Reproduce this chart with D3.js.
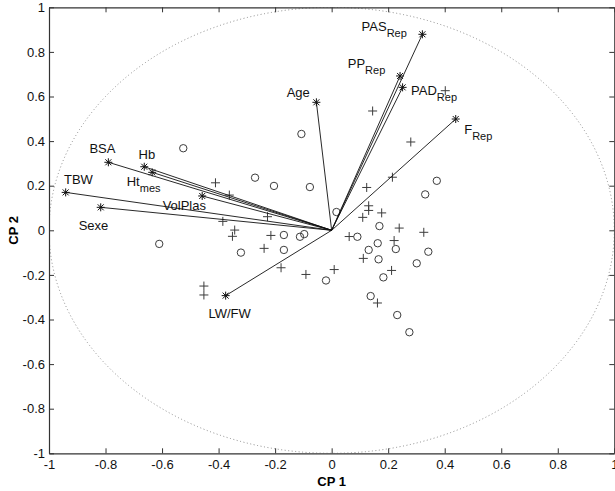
<!DOCTYPE html>
<html>
<head>
<meta charset="utf-8">
<script src="https://cdn.jsdelivr.net/npm/d3@7"></script>
<style>
  body { margin: 0; background: #fff; }
  svg { display: block; font-family: Arial, "Liberation Sans", sans-serif; }
</style>
</head>
<body>
<script>
// Loadings (variables), CP1 / CP2
const varNames = ['PAS', 'PP', 'PAD', 'F', 'Age', 'BSA', 'Hb', 'Ht', 'TBW', 'Sexe', 'VolPlas', 'LW/FW'];
const varSubs = ['Rep', 'Rep', 'Rep', 'Rep', '', '', '', 'mes', '', '', '', ''];
const varCP1 = [0.321, 0.242, 0.251, 0.439, -0.054, -0.790, -0.663, -0.635, -0.941, -0.817, -0.458, -0.375];
const varCP2 = [0.879, 0.692, 0.641, 0.499, 0.574, 0.305, 0.285, 0.260, 0.170, 0.103, 0.154, -0.293];
// where each label sits, in CP units (left edge, baseline)
const labelCP1 = [0.106, 0.057, 0.281, 0.469, -0.159, -0.857, -0.683, -0.725, -0.947, -0.895, -0.598, -0.436];
const labelCP2 = [0.895, 0.730, 0.608, 0.432, 0.600, 0.348, 0.320, 0.200, 0.209, 0.000, 0.089, -0.393];

// Scores, group drawn as circles
const circleCP1 = [-0.525, -0.107, -0.271, -0.204, -0.077, -0.610, 0.017, -0.169, -0.112, -0.097, -0.321, -0.169, -0.020,
  0.372, 0.331, 0.169, 0.091, 0.163, 0.131, 0.227, 0.166, 0.342, 0.301, 0.183, 0.138, 0.232, 0.275];
const circleCP2 = [0.368, 0.432, 0.236, 0.199, 0.194, -0.061, 0.082, -0.021, -0.029, -0.017, -0.100, -0.088, -0.225,
  0.222, 0.161, 0.019, -0.029, -0.058, -0.088, -0.084, -0.130, -0.096, -0.148, -0.211, -0.295, -0.380, -0.457];

// Scores, group drawn as pluses
const plusCP1 = [-0.411, -0.362, -0.227, -0.385, -0.343, -0.351, -0.215, -0.239, -0.179, -0.091, 0.009, -0.452, -0.452,
  0.145, 0.280, 0.215, 0.124, 0.131, 0.131, 0.177, 0.110, 0.239, 0.326, 0.062, 0.221, 0.112, 0.212, 0.162, 0.402];
const plusCP2 = [0.213, 0.158, 0.061, 0.040, 0.001, -0.027, -0.023, -0.081, -0.168, -0.198, -0.176, -0.250, -0.290,
  0.535, 0.396, 0.238, 0.192, 0.110, 0.089, 0.078, 0.058, 0.010, -0.009, -0.028, -0.046, -0.126, -0.180, -0.326, 0.626];

const ticks = [-1, -0.8, -0.6, -0.4, -0.2, 0, 0.2, 0.4, 0.6, 0.8, 1];

const width = 615, height = 491;
const margin = { left: 49, right: 0.7, top: 7.3, bottom: 37.7 };
const axisColor = '#333';
const markColor = '#3c3c3c';

const svg = d3.select('body').append('svg')
  .attr('width', width)
  .attr('height', height);

const x = d3.scaleLinear().domain([-1, 1]).range([margin.left, width - margin.right]);
const y = d3.scaleLinear().domain([-1, 1]).range([height - margin.bottom, margin.top]);

svg.append('defs').append('clipPath').attr('id', 'plot-clip')
  .append('rect')
  .attr('x', x(-1)).attr('y', y(1))
  .attr('width', x(1) - x(-1)).attr('height', y(-1) - y(1));

// unit circle, dotted
svg.append('ellipse')
  .attr('cx', x(0)).attr('cy', y(0))
  .attr('rx', x(1) - x(0)).attr('ry', y(0) - y(1))
  .attr('clip-path', 'url(#plot-clip)')
  .style('fill', 'none')
  .style('stroke', '#8a8a8a')
  .style('stroke-width', 1)
  .style('stroke-dasharray', '1,2.5');

// axes: inward ticks on all four sides
const tickLen = 5;
const axes = [
  { axis: d3.axisBottom(x), pos: `translate(0,${y(-1)})`, pad: 6 },
  { axis: d3.axisTop(x), pos: `translate(0,${y(1)})`, pad: 0 },
  { axis: d3.axisLeft(y), pos: `translate(${x(-1)},0)`, pad: 4 },
  { axis: d3.axisRight(y), pos: `translate(${x(1)},0)`, pad: 0 },
];
for (const a of axes) {
  const g = svg.append('g')
    .attr('transform', a.pos)
    .call(a.axis.tickValues(ticks).tickSizeInner(-tickLen).tickSizeOuter(0)
      .tickPadding(a.pad)
      .tickFormat(a.pad ? d => String(+d.toFixed(1)) : ''));
  g.select('.domain').attr('stroke', axisColor).attr('stroke-width', 1.2);
  g.selectAll('.tick line').attr('stroke', axisColor);
  g.selectAll('.tick text')
    .attr('fill', '#111')
    .style('font-size', '13px');
}

svg.append('text')
  .attr('x', x(0)).attr('y', 486)
  .attr('text-anchor', 'middle')
  .style('font-size', '13px').style('font-weight', 'bold')
  .text('CP 1');

svg.append('text')
  .attr('transform', `translate(18,${y(0)}) rotate(-90)`)
  .attr('text-anchor', 'middle')
  .style('font-size', '13px').style('font-weight', 'bold')
  .text('CP 2');

const plot = svg.append('g').attr('clip-path', 'url(#plot-clip)');

// circles
plot.selectAll('.obs-circle')
  .data(d3.zip(circleCP1, circleCP2))
  .enter().append('circle')
  .attr('class', 'obs-circle')
  .attr('cx', d => x(d[0])).attr('cy', d => y(d[1]))
  .attr('r', 3.7)
  .style('fill', 'none').style('stroke', markColor).style('stroke-width', 1);

// pluses
plot.selectAll('.obs-plus')
  .data(d3.zip(plusCP1, plusCP2))
  .enter().append('path')
  .attr('class', 'obs-plus')
  .attr('d', d => {
    const px = x(d[0]), py = y(d[1]), s = 4.5;
    return `M${px - s},${py}H${px + s}M${px},${py - s}V${py + s}`;
  })
  .style('fill', 'none').style('stroke', markColor).style('stroke-width', 1);

// loading vectors
const vars = varNames.map((name, i) => ({
  name, sub: varSubs[i], cp1: varCP1[i], cp2: varCP2[i], lx: labelCP1[i], ly: labelCP2[i],
}));

plot.selectAll('.vec')
  .data(vars)
  .enter().append('line')
  .attr('class', 'vec')
  .attr('x1', x(0)).attr('y1', y(0))
  .attr('x2', d => x(d.cp1)).attr('y2', d => y(d.cp2))
  .style('stroke', '#111').style('stroke-width', 0.9);

plot.selectAll('.star')
  .data(vars)
  .enter().append('path')
  .attr('class', 'star')
  .attr('d', d => {
    const px = x(d.cp1), py = y(d.cp2), s = 4, t = 3;
    return `M${px - s},${py}H${px + s}M${px},${py - s}V${py + s}` +
      `M${px - t},${py - t}L${px + t},${py + t}M${px - t},${py + t}L${px + t},${py - t}`;
  })
  .style('fill', 'none').style('stroke', '#111').style('stroke-width', 1);

const labels = svg.selectAll('.var-label')
  .data(vars)
  .enter().append('text')
  .attr('class', 'var-label')
  .attr('x', d => x(d.lx)).attr('y', d => y(d.ly))
  .style('font-size', '13px')
  .attr('fill', '#111');

labels.append('tspan').text(d => d.name);
labels.filter(d => d.sub)
  .append('tspan')
  .attr('dy', 6.5)
  .style('font-size', '11px')
  .text(d => d.sub);
</script>
</body>
</html>
